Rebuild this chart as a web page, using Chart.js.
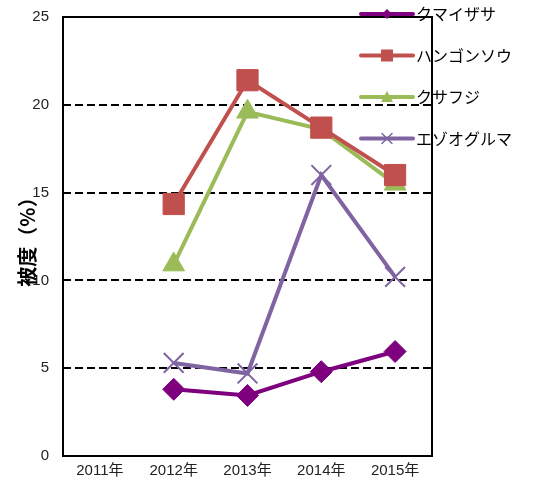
<!DOCTYPE html>
<html>
<head>
<meta charset="utf-8">
<script src="https://cdn.jsdelivr.net/npm/chart.js@4/dist/chart.umd.min.js"></script>
<style>
  html, body { margin: 0; padding: 0; background: #fff; }
  #wrap { width: 542px; height: 486px; }
</style>
</head>
<body>
<div id="wrap"><canvas id="c" width="542" height="486"></canvas></div>
<script>
var years = ['2011年', '2012年', '2013年', '2014年', '2015年'];
var kumaizasa = [null, 3.8, 3.45, 4.8, 5.95];
var hangonsou = [null, 14.35, 21.4, 18.7, 16.0];
var kusafuji = [null, 10.9, 19.6, 18.6, 15.5];
var ezooguruma = [null, 5.3, 4.7, 16.0, 10.2];
var seriesNames = ['クマイザサ', 'ハンゴンソウ', 'クサフジ', 'エゾオグルマ'];
var yTitle = '被度（%）';

var FONT = "'Liberation Sans', 'Noto Sans CJK JP', sans-serif";

// box around plot, y title and legend on the right edge
var decorPlugin = {
    id: 'decor',
    afterDraw: function(chart) {
        var ctx = chart.ctx,
            a = chart.chartArea;
        ctx.save();
        ctx.strokeStyle = '#000';
        ctx.lineWidth = 2;
        ctx.strokeRect(a.left, a.top, a.right - a.left, a.bottom - a.top);

        ctx.translate(27, 237);
        ctx.rotate(-Math.PI / 2);
        ctx.fillStyle = '#000';
        ctx.font = "bold 20px 'Noto Sans CJK JP', sans-serif";
        ctx.textAlign = 'center';
        ctx.textBaseline = 'middle';
        ctx.fillText(yTitle, 0, 0);
        ctx.restore();

        ctx.save();
        chart.data.datasets.forEach(function(ds, i) {
            var y = 14 + i * 41.5;
            ctx.strokeStyle = ds.borderColor;
            ctx.lineWidth = 4;
            ctx.lineCap = 'round';
            ctx.beginPath();
            ctx.moveTo(361, y);
            ctx.lineTo(413, y);
            ctx.stroke();
            var p = ds.legendPoint;
            ctx.fillStyle = ds.borderColor;
            ctx.strokeStyle = ds.borderColor;
            ctx.lineWidth = 2;
            if (p === 'rectRot') {
                ctx.beginPath();
                ctx.moveTo(387, y - 5); ctx.lineTo(392, y); ctx.lineTo(387, y + 5); ctx.lineTo(382, y);
                ctx.closePath(); ctx.fill();
            } else if (p === 'rect') {
                ctx.fillRect(381, y - 6, 12, 12);
            } else if (p === 'triangle') {
                ctx.beginPath();
                ctx.moveTo(387, y - 6); ctx.lineTo(393, y + 5); ctx.lineTo(381, y + 5);
                ctx.closePath(); ctx.fill();
            } else {
                ctx.lineWidth = 1.5;
                ctx.beginPath();
                ctx.moveTo(382, y - 5); ctx.lineTo(392, y + 5);
                ctx.moveTo(392, y - 5); ctx.lineTo(382, y + 5);
                ctx.stroke();
            }
            ctx.fillStyle = '#000';
            ctx.font = "16px 'Noto Sans CJK JP', sans-serif";
            ctx.textAlign = 'left';
            ctx.textBaseline = 'middle';
            ctx.fillText(seriesNames[i], 416, y);
        });
        ctx.restore();
    }
};

new Chart(document.getElementById('c'), {
    type: 'line',
    data: {
        labels: years,
        datasets: [{
            label: seriesNames[0],
            data: kumaizasa,
            borderColor: '#7F007F',
            backgroundColor: '#7F007F',
            pointStyle: 'rectRot',
            pointRadius: 11,
            legendPoint: 'rectRot'
        }, {
            label: seriesNames[1],
            data: hangonsou,
            borderColor: '#C0504D',
            backgroundColor: '#C0504D',
            pointStyle: 'rect',
            pointRadius: 15,
            legendPoint: 'rect'
        }, {
            label: seriesNames[2],
            data: kusafuji,
            borderColor: '#9BBB59',
            backgroundColor: '#9BBB59',
            pointStyle: 'triangle',
            pointRadius: 12.5,
            legendPoint: 'triangle'
        }, {
            label: seriesNames[3],
            data: ezooguruma,
            borderColor: '#8064A2',
            backgroundColor: '#8064A2',
            pointStyle: 'crossRot',
            pointRadius: 14,
            pointBorderWidth: 2,
            legendPoint: 'crossRot'
        }]
    },
    options: {
        responsive: false,
        animation: false,
        elements: {
            line: { borderWidth: 4, tension: 0 },
            point: { borderWidth: 1 }
        },
        layout: { autoPadding: false, padding: { top: 17, right: 110, bottom: 0, left: 0 } },
        plugins: {
            legend: { display: false },
            tooltip: { enabled: false }
        },
        scales: {
            x: {
                offset: true,
                grid: { display: false, drawTicks: false },
                border: { display: false },
                ticks: {
                    color: '#222',
                    font: { family: FONT, size: 15 },
                    padding: 6
                }
            },
            y: {
                min: 0,
                max: 25,
                afterFit: function(s) {
                    s.width = 63;
                    s.paddingTop = 9;
                    s.paddingBottom = 9;
                },
                grid: {
                    color: function(c) {
                        return (c.tick.value === 0 || c.tick.value === 25) ? 'rgba(0,0,0,0)' : '#000';
                    },
                    lineWidth: 2,
                    drawTicks: false
                },
                border: { display: false, dash: [8, 4] },
                ticks: {
                    stepSize: 5,
                    color: '#222',
                    font: { family: FONT, size: 15 },
                    padding: 14
                }
            }
        }
    },
    plugins: [decorPlugin]
});
</script>
</body>
</html>
